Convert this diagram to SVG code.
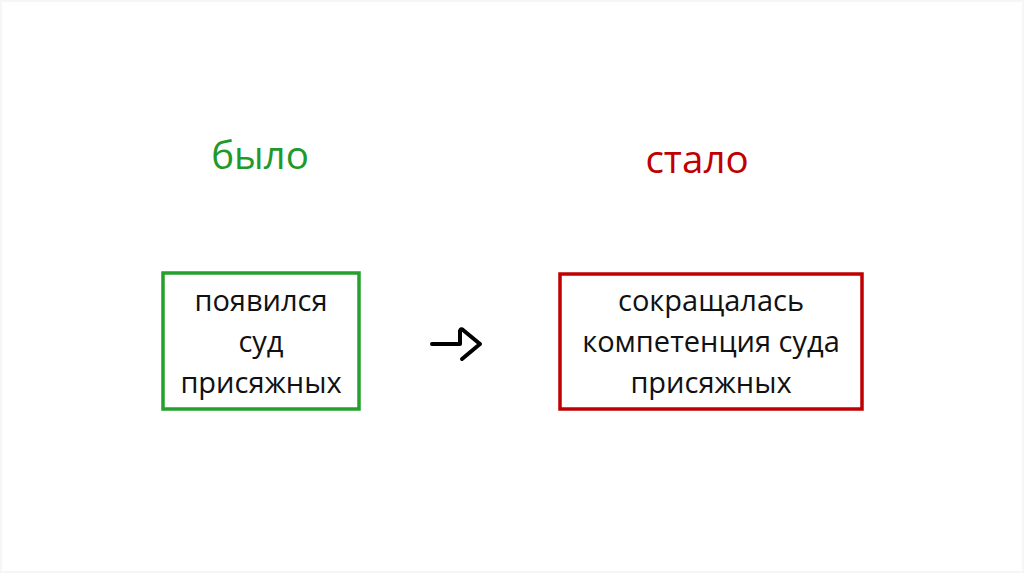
<svg xmlns="http://www.w3.org/2000/svg" width="1024" height="574" viewBox="0 0 1024 574">
<style>
.t{font-family:"Open Sans","Liberation Sans",sans-serif;text-anchor:middle}
.title{font-size:38.5px}
.body{font-size:29px;fill:#111}
</style>
<rect x="0" y="0" width="1024" height="574" fill="#ffffff"/>
<rect x="1" y="1" width="1022" height="571" fill="none" stroke="#f6f6f6" stroke-width="2"/>
<g id="title-bylo"><text class="t title" x="260" y="169" fill="#1f9a2a">было</text></g>
<g id="title-stalo"><text class="t title" x="697" y="173" fill="#c00000">стало</text></g>
<g id="node-left">
<rect x="163" y="273" width="196" height="136" fill="none" stroke="#24a02c" stroke-width="3.5"/>
<text class="t body" x="261" y="311">появился</text>
<text class="t body" x="261" y="352">суд</text>
<text class="t body" x="261" y="393">присяжных</text>
</g>
<g id="node-right">
<rect x="560" y="274" width="302" height="135" fill="none" stroke="#c00000" stroke-width="3.5"/>
<text class="t body" x="711" y="311">сокращалась</text>
<text class="t body" x="711" y="352">компетенция суда</text>
<text class="t body" x="711" y="393">присяжных</text>
</g>
<g id="connectors">
<path d="M432,344 H460 V331 Q461,328 463,330 L480,344 L462,359" fill="none" stroke="#000" stroke-width="4" stroke-linecap="round" stroke-linejoin="round"/>
</g>
</svg>
